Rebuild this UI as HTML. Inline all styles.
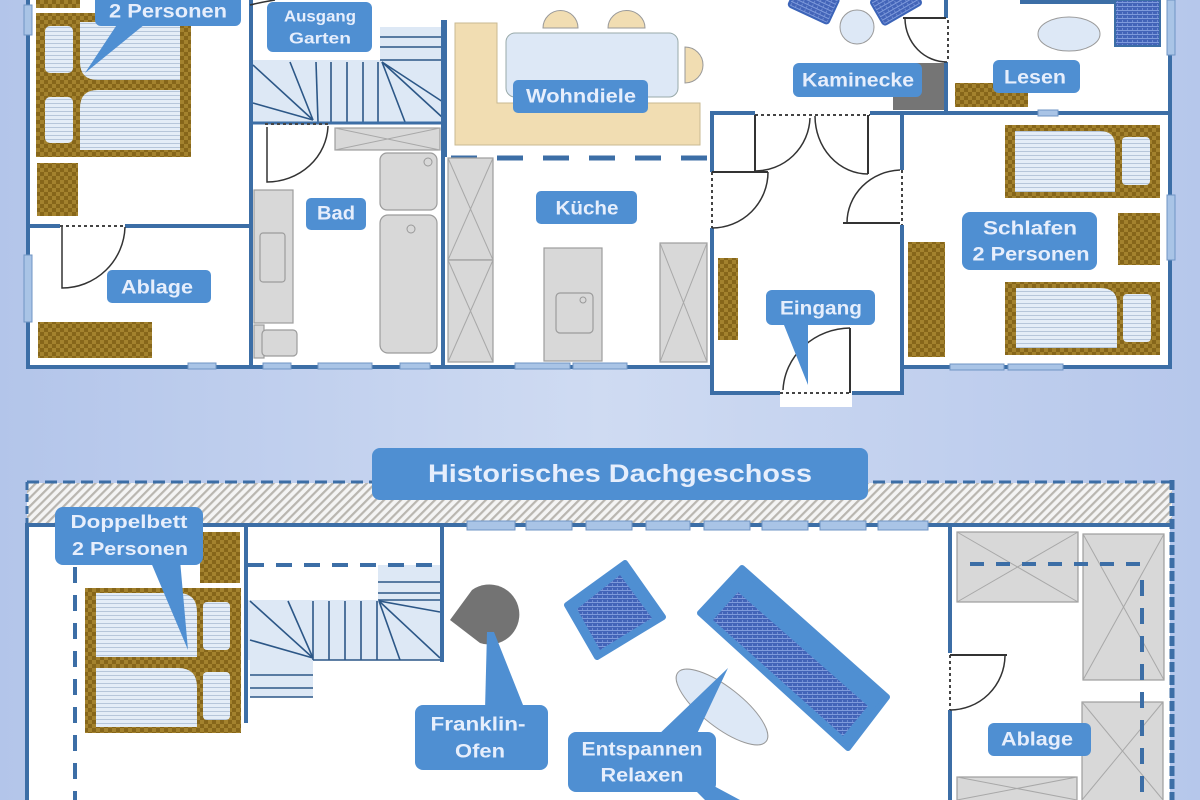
<!DOCTYPE html>
<html><head><meta charset="utf-8"><style>
html,body{margin:0;padding:0;width:1200px;height:800px;overflow:hidden;background:#c6d4ef}
svg{display:block}
.lb{fill:#4f8fd2}
.t{font-family:"Liberation Sans",sans-serif;font-weight:bold;fill:#e6eefc;text-anchor:middle;dominant-baseline:central}
.w{stroke:#3c6ea6;stroke-width:4;fill:none}
.d{stroke:#333;stroke-width:1.5;fill:none}
.dt{stroke:#444;stroke-width:2;stroke-dasharray:3 3;fill:none}
.g{fill:#d8d8d8;stroke:#9c9c9c;stroke-width:1.2}
.x{stroke:#a8a8a8;stroke-width:1}
.st{stroke:#2c5787;stroke-width:1.6}
.win{fill:#a9c4e6;stroke:#6f95c4;stroke-width:1}
</style></head><body>
<svg width="1200" height="800" viewBox="0 0 1200 800" xmlns="http://www.w3.org/2000/svg">
<defs>
<linearGradient id="bg" x1="0" x2="1" y1="0" y2="0">
<stop offset="0" stop-color="#b3c5ea"/><stop offset="0.5" stop-color="#cfdbf2"/><stop offset="1" stop-color="#b6c7eb"/>
</linearGradient>
<pattern id="wood" width="8" height="8" patternUnits="userSpaceOnUse"><rect width="8" height="8" fill="#86661a"/><rect width="4" height="4" fill="#a3822e"/><rect x="4" y="4" width="4" height="4" fill="#a3822e"/></pattern>
<pattern id="mat" width="4" height="4" patternUnits="userSpaceOnUse"><rect width="4" height="4" fill="#e4edf7"/><rect y="3" width="4" height="1" fill="#b6c6da"/></pattern>
<pattern id="hatch" width="6" height="6" patternUnits="userSpaceOnUse" patternTransform="rotate(45)"><rect width="6" height="6" fill="#f4f4f4"/><rect width="2.2" height="6" fill="#b9b6b0"/></pattern>
<pattern id="up" width="5" height="4" patternUnits="userSpaceOnUse"><rect width="5" height="4" fill="#4364b8"/><rect y="2" width="5" height="1" fill="#7f9bdc"/><rect x="2" width="1" height="2" fill="#6d8bd2"/></pattern>
</defs>
<rect width="1200" height="800" fill="url(#bg)"/>

<!-- ================= UPPER PLAN ================= -->
<rect x="28" y="0" width="1144" height="367" fill="#fff"/>
<rect x="712" y="365" width="190" height="28" fill="#fff"/>
<rect x="780" y="393" width="72" height="14" fill="#fff"/>

<!-- left bedroom bed -->
<rect x="36" y="0" width="44" height="8" fill="url(#wood)"/>
<rect x="36" y="13" width="155" height="144" fill="url(#wood)"/>
<rect x="45" y="26" width="28" height="47" rx="5" fill="url(#mat)"/>
<rect x="45" y="97" width="28" height="46" rx="5" fill="url(#mat)"/>
<path d="M80 22 H180 V80 H98 Q80 80 80 62 Z" fill="url(#mat)"/>
<path d="M98 90 H180 V150 H80 V108 Q80 90 98 90 Z" fill="url(#mat)"/>
<rect x="37" y="163" width="41" height="53" fill="url(#wood)"/>
<rect x="38" y="322" width="114" height="36" fill="url(#wood)"/>

<!-- walls left part -->
<line class="w" x1="28" y1="0" x2="28" y2="367"/>
<line class="w" x1="26" y1="367" x2="712" y2="367"/>
<line class="w" x1="251" y1="0" x2="251" y2="367"/>
<line class="w" x1="28" y1="226" x2="60" y2="226"/>
<line class="w" x1="125" y1="226" x2="251" y2="226"/>
<rect class="win" x="24" y="5" width="8" height="30"/>
<rect class="win" x="24" y="255" width="8" height="67"/>
<rect class="win" x="188" y="363" width="28" height="6"/>
<rect class="win" x="263" y="363" width="28" height="6"/>
<rect class="win" x="318" y="363" width="54" height="6"/>
<rect class="win" x="400" y="363" width="30" height="6"/>
<!-- Ablage door -->
<line class="dt" x1="60" y1="226" x2="125" y2="226"/>
<path class="d" d="M62 227 V288 A63 63 0 0 0 125 227"/>

<!-- stairs upper -->
<rect x="253" y="60" width="190" height="63" fill="#dde8f5"/>
<rect x="380" y="27" width="63" height="33" fill="#dde8f5"/>
<g class="st">
<line x1="380" y1="37" x2="443" y2="37"/><line x1="380" y1="47" x2="443" y2="47"/><line x1="380" y1="60" x2="443" y2="60"/>
<line x1="253" y1="65" x2="313" y2="120"/><line x1="290" y1="62" x2="313" y2="120"/><line x1="316" y1="62" x2="318" y2="122"/>
<line x1="331" y1="62" x2="331" y2="122"/><line x1="347" y1="62" x2="347" y2="122"/><line x1="363" y1="62" x2="363" y2="122"/><line x1="378" y1="62" x2="378" y2="122"/>
<line x1="382" y1="62" x2="405" y2="122"/><line x1="382" y1="62" x2="443" y2="102"/><line x1="382" y1="62" x2="443" y2="118"/>
<line x1="253" y1="103" x2="313" y2="120"/>
</g>
<line class="w" x1="253" y1="123" x2="443" y2="123" style="stroke-width:3"/>
<line class="w" x1="443" y1="20" x2="443" y2="367"/>
<path class="d" d="M250 5 Q262 2 275 0"/>
<!-- Bad -->
<line class="dt" x1="265" y1="124" x2="328" y2="124" style="stroke:#fff"/>
<line class="dt" x1="265" y1="124" x2="328" y2="124"/>
<path class="d" d="M267 127 V182 A61 58 0 0 0 328 126"/>
<rect class="g" x="335" y="128" width="105" height="22"/>
<line class="x" x1="335" y1="128" x2="440" y2="150"/><line class="x" x1="335" y1="150" x2="440" y2="128"/>
<rect class="g" x="254" y="190" width="39" height="133"/>
<rect class="g" x="260" y="233" width="25" height="49" rx="3"/>
<rect class="g" x="254" y="325" width="10" height="33"/>
<rect class="g" x="262" y="330" width="35" height="26" rx="4"/>
<rect class="g" x="380" y="153" width="57" height="57" rx="7"/>
<rect class="g" x="380" y="215" width="57" height="138" rx="8"/>
<circle cx="428" cy="162" r="4" fill="none" stroke="#999"/>
<circle cx="411" cy="229" r="4" fill="none" stroke="#999"/>

<!-- Wohndiele -->
<path d="M455 23 H497 V103 H700 V145 H455 Z" fill="#f1ddb2" stroke="#c9b991" stroke-width="1"/>
<path d="M543 28 A17 17 0 0 1 578 28 Z" fill="#f1ddb2" stroke="#999" stroke-width="1"/>
<path d="M608 28 A18 17 0 0 1 645 28 Z" fill="#f1ddb2" stroke="#999" stroke-width="1"/>
<path d="M685 47 A18 18 0 0 1 685 83 Z" fill="#f1ddb2" stroke="#999" stroke-width="1"/>
<rect x="506" y="33" width="172" height="64" rx="9" fill="#dde8f6" stroke="#9aa" stroke-width="1"/>
<line class="w" x1="445" y1="20" x2="445" y2="157"/>
<!-- Küche -->
<line x1="447" y1="158" x2="710" y2="158" stroke="#3c6ea6" stroke-width="5" stroke-dasharray="26 20" stroke-dashoffset="-4"/>
<rect class="g" x="448" y="158" width="45" height="102"/>
<rect class="g" x="448" y="260" width="45" height="102"/>
<line class="x" x1="448" y1="158" x2="493" y2="260"/><line class="x" x1="448" y1="260" x2="493" y2="158"/>
<line class="x" x1="448" y1="260" x2="493" y2="362"/><line class="x" x1="448" y1="362" x2="493" y2="260"/>
<rect class="g" x="544" y="248" width="58" height="113"/>
<rect class="g" x="556" y="293" width="37" height="40" rx="4"/>
<circle cx="583" cy="300" r="3" fill="none" stroke="#999"/>
<rect class="g" x="660" y="243" width="47" height="119"/>
<line class="x" x1="660" y1="243" x2="707" y2="362"/><line class="x" x1="660" y1="362" x2="707" y2="243"/>
<rect class="win" x="515" y="363" width="55" height="6"/>
<rect class="win" x="573" y="363" width="54" height="6"/>

<!-- Kaminecke -->
<g transform="rotate(25 812 6)"><rect x="790" y="-12" width="44" height="28" rx="3" fill="url(#up)" stroke="#3c64b8" stroke-width="2"/></g>
<g transform="rotate(-30 898 6)"><rect x="876" y="-12" width="44" height="28" rx="3" fill="url(#up)" stroke="#3c64b8" stroke-width="2"/></g>
<circle cx="857" cy="27" r="17" fill="#dde8f6" stroke="#999" stroke-width="1"/>
<path d="M912 63 H945 V110 H893 V82 Q893 63 912 63 Z" fill="#757575"/>
<line class="w" x1="946" y1="0" x2="946" y2="18"/>
<line class="w" x1="946" y1="62" x2="946" y2="113"/>
<line class="d" x1="903" y1="18" x2="946" y2="18" style="stroke-width:2"/>
<path class="d" d="M905 19 A42 44 0 0 0 947 62"/>
<line class="dt" x1="948" y1="20" x2="948" y2="62"/>

<!-- Lesen -->
<rect x="1020" y="0" width="140" height="4" fill="#3c6ea6"/>
<rect x="1115" y="0" width="45" height="46" fill="url(#up)" stroke="#3c6ea6" stroke-width="2"/>
<ellipse cx="1069" cy="34" rx="31" ry="17" fill="#dde8f6" stroke="#999" stroke-width="1"/>
<rect x="955" y="83" width="73" height="24" fill="url(#wood)"/>
<line class="w" x1="900" y1="113" x2="1172" y2="113"/>
<rect class="win" x="1038" y="110" width="20" height="6"/>
<line class="w" x1="1170" y1="0" x2="1170" y2="367"/>
<rect class="win" x="1167" y="0" width="8" height="55"/>
<rect class="win" x="1167" y="195" width="8" height="65"/>

<!-- Schlafen -->
<rect x="1005" y="125" width="155" height="73" fill="url(#wood)"/>
<path d="M1015 131 H1100 Q1115 131 1115 146 V192 H1015 Z" fill="url(#mat)"/>
<rect x="1122" y="137" width="28" height="48" rx="4" fill="url(#mat)"/>
<rect x="1005" y="282" width="155" height="73" fill="url(#wood)"/>
<path d="M1016 288 H1100 Q1117 288 1117 303 V348 H1016 Z" fill="url(#mat)"/>
<rect x="1123" y="294" width="28" height="48" rx="4" fill="url(#mat)"/>
<rect x="1118" y="213" width="42" height="52" fill="url(#wood)"/>
<rect x="908" y="242" width="37" height="115" fill="url(#wood)"/>
<line class="w" x1="900" y1="367" x2="1172" y2="367"/>
<rect class="win" x="950" y="364" width="54" height="6"/>
<rect class="win" x="1008" y="364" width="55" height="6"/>

<!-- Eingang -->
<rect x="718" y="258" width="20" height="82" fill="url(#wood)"/>
<path class="w" d="M712 367 V393 H780 M852 393 H902 V225 M902 170 V113 H870 M755 113 H712 V172 M712 228 V367"/>
<line class="dt" x1="755" y1="115" x2="870" y2="115"/>
<line class="d" x1="755" y1="115" x2="755" y2="171" style="stroke-width:2"/>
<path class="d" d="M755 171 A55 55 0 0 0 810 118"/>
<line class="d" x1="868" y1="115" x2="868" y2="174" style="stroke-width:2"/>
<path class="d" d="M815 116 A53 58 0 0 0 868 174"/>
<line x1="712" y1="172" x2="712" y2="228" stroke="#fff" stroke-width="4"/>
<line class="dt" x1="712" y1="172" x2="712" y2="228"/>
<line class="d" x1="712" y1="172" x2="768" y2="172" style="stroke-width:2"/>
<path class="d" d="M768 172 A56 56 0 0 1 712 228"/>
<line x1="902" y1="170" x2="902" y2="225" stroke="#fff" stroke-width="4"/>
<line class="dt" x1="902" y1="170" x2="902" y2="225"/>
<line class="d" x1="843" y1="223" x2="900" y2="223" style="stroke-width:2"/>
<path class="d" d="M847 223 A55 53 0 0 1 900 170"/>
<line class="dt" x1="780" y1="393" x2="852" y2="393"/>
<line class="d" x1="850" y1="328" x2="850" y2="393" style="stroke-width:2"/>
<path class="d" d="M850 328 A68 65 0 0 0 783 390"/>

<!-- upper labels -->
<path class="lb" d="M120 20 L150 20 L85 73 Z"/>
<rect class="lb" x="95" y="-6" width="146" height="32" rx="6"/>
<text class="t" x="168" y="12" font-size="19" textLength="118" lengthAdjust="spacingAndGlyphs">2 Personen</text>
<rect class="lb" x="267" y="2" width="105" height="50" rx="6"/>
<text class="t" x="320" y="17" font-size="16" textLength="72" lengthAdjust="spacingAndGlyphs">Ausgang</text>
<text class="t" x="320" y="39" font-size="16" textLength="62" lengthAdjust="spacingAndGlyphs">Garten</text>
<rect class="lb" x="306" y="198" width="60" height="32" rx="5"/>
<text class="t" x="336" y="214" font-size="19" textLength="38" lengthAdjust="spacingAndGlyphs">Bad</text>
<rect class="lb" x="107" y="270" width="104" height="33" rx="5"/>
<text class="t" x="157" y="288" font-size="19" textLength="72" lengthAdjust="spacingAndGlyphs">Ablage</text>
<rect class="lb" x="513" y="80" width="135" height="33" rx="5"/>
<text class="t" x="581" y="97" font-size="19" textLength="110" lengthAdjust="spacingAndGlyphs">Wohndiele</text>
<rect class="lb" x="536" y="191" width="101" height="33" rx="5"/>
<text class="t" x="587" y="209" font-size="19" textLength="63" lengthAdjust="spacingAndGlyphs">Küche</text>
<rect class="lb" x="793" y="63" width="129" height="34" rx="6"/>
<text class="t" x="858" y="81" font-size="19" textLength="112" lengthAdjust="spacingAndGlyphs">Kaminecke</text>
<rect class="lb" x="993" y="60" width="87" height="33" rx="6"/>
<text class="t" x="1035" y="78" font-size="19" textLength="62" lengthAdjust="spacingAndGlyphs">Lesen</text>
<rect class="lb" x="962" y="212" width="135" height="58" rx="8"/>
<text class="t" x="1030" y="229" font-size="19" textLength="94" lengthAdjust="spacingAndGlyphs">Schlafen</text>
<text class="t" x="1031" y="255" font-size="19" textLength="117" lengthAdjust="spacingAndGlyphs">2 Personen</text>
<path class="lb" d="M782 320 L808 320 L808 385 Z"/>
<rect class="lb" x="766" y="290" width="109" height="35" rx="6"/>
<text class="t" x="821" y="309" font-size="19" textLength="82" lengthAdjust="spacingAndGlyphs">Eingang</text>

<!-- ================= LOWER PLAN ================= -->
<rect x="27" y="483" width="1145" height="40" fill="url(#hatch)"/>
<line x1="27" y1="482" x2="1172" y2="482" stroke="#3c6ea6" stroke-width="3" stroke-dasharray="12 6"/>
<line x1="27" y1="482" x2="27" y2="523" stroke="#3c6ea6" stroke-width="3" stroke-dasharray="8 4"/>
<rect x="29" y="525" width="1141" height="275" fill="#fff"/>
<line class="w" x1="27" y1="523" x2="27" y2="800"/>
<line class="w" x1="27" y1="525" x2="1172" y2="525"/>
<line x1="1172" y1="480" x2="1172" y2="800" stroke="#3c6ea6" stroke-width="5" stroke-dasharray="10 3"/>
<rect class="win" x="467" y="521" width="48" height="9"/>
<rect class="win" x="526" y="521" width="46" height="9"/>
<rect class="win" x="586" y="521" width="46" height="9"/>
<rect class="win" x="646" y="521" width="44" height="9"/>
<rect class="win" x="704" y="521" width="46" height="9"/>
<rect class="win" x="762" y="521" width="46" height="9"/>
<rect class="win" x="820" y="521" width="46" height="9"/>
<rect class="win" x="878" y="521" width="50" height="9"/>

<!-- left dashed -->
<line x1="75" y1="567" x2="75" y2="800" stroke="#3c6ea6" stroke-width="4" stroke-dasharray="16 12"/>
<!-- Doppelbett -->
<rect x="200" y="532" width="40" height="51" fill="url(#wood)"/>
<rect x="85" y="588" width="156" height="145" fill="url(#wood)"/>
<path d="M96 593 H178 Q197 593 197 612 V657 H96 Z" fill="url(#mat)"/>
<path d="M96 668 H178 Q197 668 197 687 V727 H96 Z" fill="url(#mat)"/>
<rect x="203" y="602" width="27" height="48" rx="4" fill="url(#mat)"/>
<rect x="203" y="672" width="27" height="48" rx="4" fill="url(#mat)"/>
<!-- stairs lower -->
<rect x="248" y="600" width="195" height="60" fill="#dde8f5"/>
<rect x="378" y="565" width="63" height="35" fill="#dde8f5"/>
<rect x="250" y="660" width="63" height="37" fill="#dde8f5"/>
<g class="st">
<line x1="378" y1="582" x2="440" y2="582"/><line x1="378" y1="593" x2="440" y2="593"/><line x1="378" y1="600" x2="440" y2="600"/>
<line x1="250" y1="675" x2="313" y2="675"/><line x1="250" y1="688" x2="313" y2="688"/><line x1="250" y1="697" x2="313" y2="697"/>
<line x1="250" y1="601" x2="313" y2="658"/><line x1="288" y1="601" x2="313" y2="658"/><line x1="250" y1="640" x2="313" y2="658"/>
<line x1="313" y1="601" x2="313" y2="660"/><line x1="329" y1="601" x2="329" y2="660"/><line x1="345" y1="601" x2="345" y2="660"/><line x1="361" y1="601" x2="361" y2="660"/><line x1="377" y1="601" x2="377" y2="660"/>
<line x1="379" y1="601" x2="400" y2="660"/><line x1="379" y1="601" x2="440" y2="658"/><line x1="379" y1="601" x2="440" y2="612"/>
<line x1="313" y1="660" x2="443" y2="660"/>
</g>
<line x1="248" y1="565" x2="440" y2="565" stroke="#3c6ea6" stroke-width="4" stroke-dasharray="16 12"/>
<line class="w" x1="246" y1="525" x2="246" y2="723"/>
<line class="w" x1="442" y1="525" x2="442" y2="662"/>

<!-- Franklin ofen -->
<path d="M450 620 L472 590 A30 30 0 1 1 480 643 Z" fill="#737373"/>
<!-- sofas -->
<polygon points="625,563 663,617 597,657 567,605" fill="#4f8fd2" stroke="#4f8fd2" stroke-width="6" stroke-linejoin="round"/>
<polygon points="620,575 652,618 600,650 577,609" fill="url(#up)"/>
<polygon points="742,568 887,697 848,748 700,613" fill="#4f8fd2" stroke="#4f8fd2" stroke-width="6" stroke-linejoin="round"/>
<polygon points="738,592 868,706 843,736 713,620" fill="url(#up)"/>
<ellipse cx="722" cy="707" rx="56" ry="20" transform="rotate(38 722 707)" fill="#dde8f6" stroke="#999" stroke-width="1"/>

<!-- right room -->
<rect class="g" x="957" y="532" width="121" height="70"/>
<line class="x" x1="957" y1="532" x2="1078" y2="602"/><line class="x" x1="957" y1="602" x2="1078" y2="532"/>
<rect class="g" x="1083" y="534" width="81" height="146"/>
<line class="x" x1="1083" y1="534" x2="1164" y2="680"/><line class="x" x1="1083" y1="680" x2="1164" y2="534"/>
<rect class="g" x="1082" y="702" width="81" height="100"/>
<line class="x" x1="1082" y1="702" x2="1163" y2="800"/><line class="x" x1="1082" y1="800" x2="1163" y2="702"/>
<rect class="g" x="957" y="777" width="120" height="26"/>
<line class="x" x1="957" y1="777" x2="1077" y2="800"/><line class="x" x1="957" y1="800" x2="1077" y2="777"/>
<line x1="970" y1="564" x2="1145" y2="564" stroke="#3c6ea6" stroke-width="4" stroke-dasharray="14 12"/>
<line x1="1142" y1="580" x2="1142" y2="800" stroke="#3c6ea6" stroke-width="4" stroke-dasharray="16 12"/>
<line class="w" x1="950" y1="525" x2="950" y2="653"/>
<line class="w" x1="950" y1="710" x2="950" y2="800"/>
<line class="dt" x1="950" y1="655" x2="950" y2="710"/>
<line class="d" x1="950" y1="655" x2="1007" y2="655" style="stroke-width:2"/>
<path class="d" d="M1005 656 A55 55 0 0 1 950 710"/>

<!-- lower labels -->
<rect class="lb" x="372" y="448" width="496" height="52" rx="8"/>
<text class="t" x="620" y="474" font-size="25" textLength="384" lengthAdjust="spacingAndGlyphs">Historisches Dachgeschoss</text>
<path class="lb" d="M150 560 L180 560 L188 650 Z"/>
<rect class="lb" x="55" y="507" width="148" height="58" rx="8"/>
<text class="t" x="129" y="522" font-size="18" textLength="117" lengthAdjust="spacingAndGlyphs">Doppelbett</text>
<text class="t" x="130" y="549" font-size="18" textLength="116" lengthAdjust="spacingAndGlyphs">2 Personen</text>
<path class="lb" d="M487 632 L494 632 L525 710 L485 710 Z"/>
<rect class="lb" x="415" y="705" width="133" height="65" rx="8"/>
<text class="t" x="478" y="725" font-size="19" textLength="95" lengthAdjust="spacingAndGlyphs">Franklin-</text>
<text class="t" x="480" y="752" font-size="19" textLength="50" lengthAdjust="spacingAndGlyphs">Ofen</text>
<path class="lb" d="M655 738 L728 668 L695 738 Z"/>
<path class="lb" d="M690 785 L712 785 L740 800 L705 800 Z"/>
<rect class="lb" x="568" y="732" width="148" height="60" rx="8"/>
<text class="t" x="642" y="750" font-size="19" textLength="121" lengthAdjust="spacingAndGlyphs">Entspannen</text>
<text class="t" x="642" y="776" font-size="19" textLength="83" lengthAdjust="spacingAndGlyphs">Relaxen</text>
<rect class="lb" x="988" y="723" width="103" height="33" rx="6"/>
<text class="t" x="1037" y="740" font-size="19" textLength="72" lengthAdjust="spacingAndGlyphs">Ablage</text>
</svg>
</body></html>
